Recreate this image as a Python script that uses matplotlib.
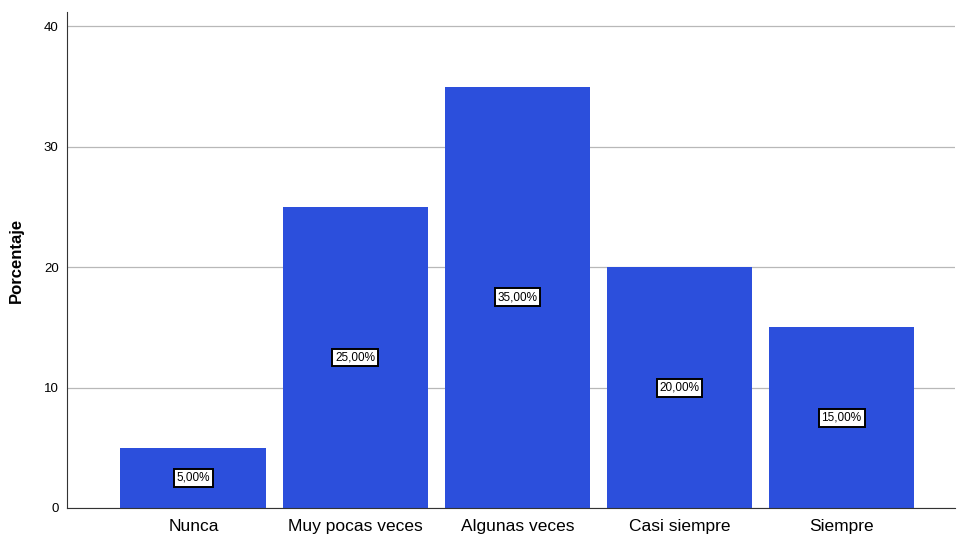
import matplotlib
matplotlib.use("Agg")
import matplotlib.pyplot as plt

categorias = ["Nunca", "Muy pocas veces", "Algunas veces", "Casi siempre", "Siempre"]
porcentajes = [5.0, 25.0, 35.0, 20.0, 15.0]
yticks = [0, 10, 20, 30, 40]

plt.rcParams['font.family'] = ['Liberation Sans', 'DejaVu Sans']

fig = plt.figure(figsize=(9.59, 5.45), dpi=100)
ax = fig.add_axes([67/959, 37/545, (955-67)/959, (508-12)/545])

x = range(len(categorias))
barras = ax.bar(x, porcentajes, width=0.9, color="#2c4fdc", zorder=2)

# etiquetas dentro de las barras
for b, v in zip(barras, porcentajes):
    ax.text(b.get_x() + b.get_width()/2, v/2, ("%.2f%%" % v).replace(".", ","),
            ha="center", va="center", fontsize=8.5, color="black", zorder=3,
            bbox=dict(boxstyle="square,pad=0.25", fc="white", ec="black", lw=1.4))

ax.set_xlim(-0.78, 4.7)
ax.set_ylim(0, 41.2)
ax.set_yticks(yticks)
ax.set_xticks(list(x))
ax.set_xticklabels(categorias, fontsize=12.5)
ax.tick_params(axis="y", labelsize=9.5, length=0, pad=6)
ax.tick_params(axis="x", length=0, pad=8)
ax.grid(axis="y", color="#b8b8b8", lw=0.9, zorder=0)
ax.set_ylabel("Porcentaje", fontsize=12, fontweight="bold", labelpad=14)

for s in ["top", "right"]:
    ax.spines[s].set_visible(False)
ax.spines["left"].set_color("#333333")
ax.spines["bottom"].set_color("#333333")

fig.savefig("out.png", dpi=100)
